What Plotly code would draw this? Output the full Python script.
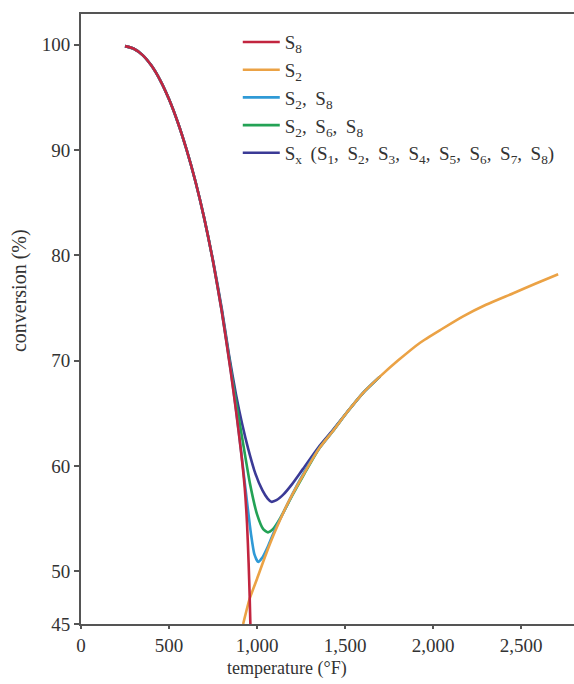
import plotly.graph_objects as go

# ---- data ----
s8_temp = [250, 300, 350, 400, 450, 500, 550, 600, 650, 700, 750, 800, 850, 880, 910, 930, 943, 952, 958, 962]
s8_conv = [99.85, 99.6, 99.0, 98.0, 96.6, 94.8, 92.6, 90.0, 87.0, 83.5, 79.4, 74.6, 69.0, 65.3, 61.2, 57.9, 54.5, 50.8, 47.6, 45.0]

s2_temp = [921, 958, 1000, 1050, 1100, 1170, 1244, 1350, 1430, 1511, 1600, 1699, 1800, 1926, 2050, 2170, 2300, 2455, 2580, 2710]
s2_conv = [45.0, 47.4, 49.3, 51.6, 53.7, 56.3, 58.6, 61.6, 63.3, 65.1, 66.9, 68.5, 70.0, 71.7, 73.0, 74.2, 75.3, 76.4, 77.3, 78.2]

s2s8_temp = [250, 300, 350, 400, 450, 500, 550, 600, 650, 700, 750, 800, 850, 880, 910, 940, 965, 985, 1006, 1030, 1060, 1100, 1150, 1200, 1244, 1350, 1430, 1511, 1600, 1699]
s2s8_conv = [99.85, 99.6, 99.0, 98.0, 96.6, 94.8, 92.6, 90.0, 87.0, 83.5, 79.4, 74.6, 69.1, 65.4, 61.3, 57.0, 53.6, 51.6, 50.9, 51.3, 52.3, 53.9, 55.6, 57.3, 58.7, 61.6, 63.3, 65.1, 66.9, 68.5]

s2s6s8_temp = [250, 300, 350, 400, 450, 500, 550, 600, 650, 700, 750, 800, 850, 890, 925, 960, 1000, 1035, 1062, 1090, 1130, 1200, 1270, 1358, 1430, 1511, 1600, 1699]
s2s6s8_conv = [99.85, 99.6, 99.0, 98.0, 96.6, 94.8, 92.6, 90.0, 87.0, 83.5, 79.4, 74.7, 69.3, 65.2, 61.7, 58.3, 55.4, 54.0, 53.7, 54.0, 55.0, 57.2, 59.3, 61.8, 63.3, 65.1, 66.9, 68.5]

sx_temp = [250, 300, 350, 400, 450, 500, 550, 600, 650, 700, 750, 800, 840, 880, 915, 950, 990, 1030, 1060, 1081, 1110, 1150, 1200, 1260, 1350, 1430, 1511, 1600, 1699]
sx_conv = [99.85, 99.6, 99.0, 98.0, 96.6, 94.8, 92.6, 90.0, 87.0, 83.5, 79.5, 74.9, 70.6, 66.8, 64.0, 61.6, 59.3, 57.7, 56.9, 56.6, 56.75, 57.3, 58.3, 59.7, 61.8, 63.4, 65.1, 66.9, 68.5]

y_ticks = [45, 50, 60, 70, 80, 90, 100]
x_ticks = [0, 500, 1000, 1500, 2000, 2500]

FONT = "Liberation Serif"
SP = "\u00a0\u2009"

fig = go.Figure()

# draw order: Sx, S2/S6/S8, S2/S8 underneath, then S2, then S8 on top
series = [
    (sx_temp, sx_conv,
     "S<sub>x</sub>" + SP + "(S<sub>1</sub>," + SP + "S<sub>2</sub>," + SP + "S<sub>3</sub>," + SP
     + "S<sub>4</sub>," + SP + "S<sub>5</sub>," + SP + "S<sub>6</sub>," + SP + "S<sub>7</sub>," + SP
     + "S<sub>8</sub>)", "#3b3a96", 5),
    (s2s6s8_temp, s2s6s8_conv,
     "S<sub>2</sub>," + SP + "S<sub>6</sub>," + SP + "S<sub>8</sub>", "#23a255", 4),
    (s2s8_temp, s2s8_conv, "S<sub>2</sub>," + SP + "S<sub>8</sub>", "#2f9ad6", 3),
    (s2_temp, s2_conv, "S<sub>2</sub>", "#eba245", 2),
    (s8_temp, s8_conv, "S<sub>8</sub>", "#c2253f", 1),
]
for xs, ys, name, color, rank in series:
    fig.add_trace(go.Scatter(
        x=xs, y=ys, mode="lines", name=name,
        line=dict(color=color, width=2.6, shape="spline", smoothing=0.6),
        legendrank=rank, legendgroup=name,
    ))

fig.update_layout(
    width=574, height=684,
    margin=dict(l=81, r=0, t=14, b=60),
    paper_bgcolor="white", plot_bgcolor="white",
    font=dict(family=FONT, size=19, color="#333333"),
    showlegend=True,
    legend=dict(
        x=0.318, y=0.985, xanchor="left", yanchor="top",
        bgcolor="rgba(0,0,0,0)", font=dict(family=FONT, size=19, color="#333333"),
        tracegroupgap=0, itemwidth=37,
    ),
    xaxis=dict(
        range=[0, 2800], tickvals=x_ticks, tickformat=",",
        showgrid=False, zeroline=False,
        showline=True, linecolor="#555555", linewidth=2, mirror=True,
        ticks="outside", ticklen=3, tickcolor="#555555", tickwidth=1.5,
    ),
    yaxis=dict(
        range=[45, 102.9], tickvals=y_ticks,
        showgrid=False, zeroline=False,
        showline=True, linecolor="#555555", linewidth=2,
        ticks="outside", ticklen=5, tickcolor="#555555", tickwidth=1.5,
    ),
    annotations=[
        dict(text="temperature (°F)", xref="x", yref="paper", x=1170, y=0,
             xanchor="center", yanchor="middle", yshift=-44, showarrow=False,
             font=dict(family=FONT, size=18, color="#333333")),
        dict(text="conversion (%)", xref="paper", yref="y", x=0, y=76.6,
             xanchor="center", yanchor="middle", xshift=-62, textangle=-90,
             showarrow=False, font=dict(family=FONT, size=20, color="#333333")),
    ],
)

fig.write_html(
    "out.html",
    config={"displayModeBar": False},
    post_script="document.body.style.margin='0';document.body.style.overflow='hidden';",
)
